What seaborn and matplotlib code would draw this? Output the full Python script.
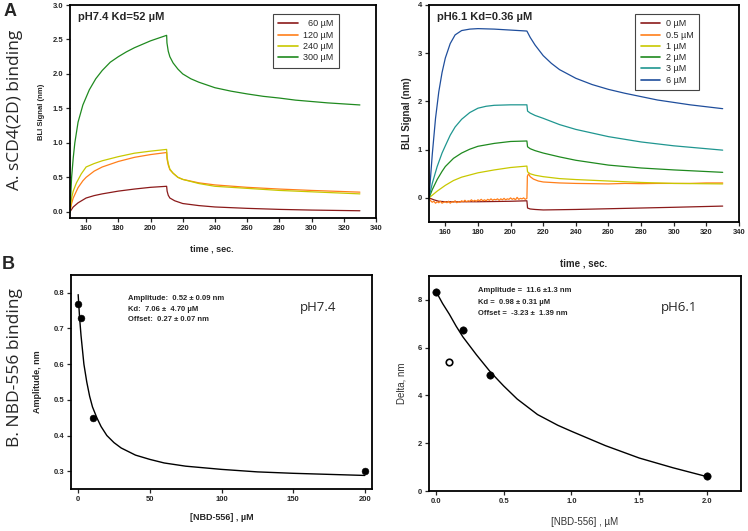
import numpy as np
import pandas as pd
import matplotlib
matplotlib.use("Agg")
import matplotlib.pyplot as plt
import seaborn as sns
from matplotlib.lines import Line2D
from matplotlib.ticker import FormatStrFormatter

# ---------------- Data: panel A left (pH7.4) ----------------
a_left_labels = ["  60 \u00b5M", "120 \u00b5M", "240 \u00b5M", "300 \u00b5M"]
a_left_colors = ["#8b1a1a", "#ff7f1a", "#c8c800", "#1f8a1f"]

t_l60 = [150, 152, 155, 160, 165, 170, 180, 190, 200, 210, 210.3, 211, 212, 215, 220, 230, 240, 260, 280, 300, 330]
y_l60 = [0.0, 0.07, 0.13, 0.20, 0.235, 0.26, 0.30, 0.33, 0.355, 0.37, 0.30, 0.24, 0.20, 0.16, 0.12, 0.09, 0.07, 0.05, 0.035, 0.025, 0.015]

t_l120 = [150, 151, 152, 155, 158, 160, 165, 170, 180, 190, 200, 210, 210.3, 211, 212, 214, 217, 220, 230, 240, 260, 280, 300, 330]
y_l120 = [0.0, 0.12, 0.2, 0.35, 0.45, 0.5, 0.59, 0.65, 0.73, 0.79, 0.83, 0.86, 0.76, 0.68, 0.61, 0.56, 0.50, 0.47, 0.42, 0.39, 0.355, 0.33, 0.31, 0.285]

t_l240 = [150, 151, 152, 154, 157, 160, 165, 170, 180, 190, 200, 210, 210.3, 211, 212, 214, 217, 220, 230, 240, 260, 280, 300, 330]
y_l240 = [0.0, 0.2, 0.3, 0.42, 0.55, 0.65, 0.70, 0.74, 0.80, 0.85, 0.88, 0.905, 0.79, 0.70, 0.62, 0.56, 0.50, 0.47, 0.41, 0.37, 0.34, 0.31, 0.29, 0.26]

t_l300 = [150, 151, 152, 153, 155, 158, 162, 166, 170, 175, 180, 185, 190, 195, 200, 205, 210,
          210.2, 211, 212, 214, 217, 220, 225, 230, 240, 250, 260, 270, 280, 290, 300, 310, 320, 330]
y_l300 = [0.0, 0.5, 0.78, 1.0, 1.3, 1.55, 1.77, 1.93, 2.05, 2.17, 2.25, 2.32, 2.38, 2.43, 2.48, 2.52, 2.56,
          2.45, 2.33, 2.25, 2.16, 2.07, 2.0, 1.93, 1.88, 1.80, 1.75, 1.71, 1.675, 1.65, 1.62, 1.60, 1.58, 1.565, 1.55]

# ---------------- Data: panel A right (pH6.1) ----------------
a_right_labels = ["0 \u00b5M", "0.5 \u00b5M", "1 \u00b5M", "2 \u00b5M", "3 \u00b5M", "6 \u00b5M"]
a_right_colors = ["#8b1a1a", "#ff7f1a", "#c8c800", "#1f8a1f", "#1f9690", "#1f4e9c"]

t_r0 = [150, 153, 156, 160, 170, 180, 190, 200, 210, 210.4, 212, 215, 220, 240, 260, 280, 300, 330]
y_r0 = [0.0, -0.04, -0.07, -0.08, -0.08, -0.08, -0.075, -0.07, -0.06, -0.21, -0.23, -0.24, -0.25, -0.24, -0.225, -0.21, -0.195, -0.17]

t_r05 = list(range(150, 211)) + [210.3, 211, 212, 214, 217, 220, 225, 230, 240, 250, 260, 270, 280, 290, 300, 310, 320, 330]
y_r05 = [0.0, -0.06, -0.09, -0.07, -0.11, -0.08, -0.10, -0.07, -0.11, -0.09,
         -0.08, -0.10, -0.07, -0.11, -0.08, -0.09, -0.06, -0.10, -0.08, -0.09,
         -0.06, -0.08, -0.05, -0.08, -0.06, -0.07, -0.04, -0.07, -0.05, -0.07,
         -0.04, -0.06, -0.03, -0.06, -0.04, -0.06, -0.03, -0.05, -0.02, -0.05,
         -0.03, -0.04, -0.02, -0.05, -0.02, -0.04, -0.01, -0.04, -0.02, -0.03,
         0.0, -0.03, -0.01, -0.04, 0.01, -0.03, -0.01, -0.02, 0.0, -0.03, -0.01,
         0.45, 0.50, 0.44, 0.39, 0.35, 0.33, 0.32, 0.31, 0.30, 0.295, 0.29, 0.30, 0.295, 0.30, 0.30, 0.30, 0.31, 0.31]

t_r1 = [150, 155, 160, 165, 170, 180, 190, 200, 210, 210.4, 212, 215, 220, 230, 240, 260, 280, 300, 330]
y_r1 = [0.0, 0.14, 0.26, 0.36, 0.43, 0.52, 0.58, 0.63, 0.66, 0.54, 0.50, 0.47, 0.44, 0.40, 0.38, 0.35, 0.32, 0.30, 0.29]

t_r2 = [150, 152, 155, 158, 160, 165, 170, 175, 180, 190, 200, 210, 210.4, 212, 215, 220, 230, 240, 260, 280, 300, 330]
y_r2 = [0.0, 0.17, 0.38, 0.55, 0.65, 0.82, 0.93, 1.01, 1.07, 1.13, 1.17, 1.18, 1.06, 1.02, 0.98, 0.93, 0.85, 0.78, 0.68, 0.62, 0.58, 0.53]

t_r3 = [150, 152, 155, 158, 160, 163, 166, 170, 175, 180, 185, 190, 200, 210, 210.4, 212, 215, 220, 230, 240, 260, 280, 300, 330]
y_r3 = [0.0, 0.3, 0.65, 0.93, 1.08, 1.3, 1.47, 1.63, 1.77, 1.86, 1.90, 1.92, 1.93, 1.93, 1.80, 1.76, 1.71, 1.65, 1.52, 1.42, 1.27, 1.16, 1.08, 0.99]

t_r6 = [150, 152, 154, 156, 158, 160, 163, 166, 170, 175, 180, 190, 200, 210, 212, 215, 220, 225, 230, 240, 250, 260, 270, 280, 290, 300, 310, 320, 330]
y_r6 = [0.0, 0.9, 1.65, 2.2, 2.6, 2.9, 3.2, 3.38, 3.47, 3.50, 3.51, 3.50, 3.48, 3.46, 3.33, 3.17, 2.95, 2.79, 2.66, 2.48, 2.35, 2.25, 2.17, 2.10, 2.03, 1.98, 1.93, 1.89, 1.85]

# ---------------- Data: panel B left (pH7.4) ----------------
bl_conc = [0, 2, 10, 200]
bl_amp = [0.77, 0.73, 0.45, 0.30]
bl_fit_x = [0, 1, 2, 3, 4, 6, 8, 10, 13, 16, 20, 25, 30, 40, 50, 60, 75, 100, 125, 150, 175, 200]
bl_fit_y = [0.795, 0.73, 0.68, 0.64, 0.60, 0.55, 0.51, 0.48, 0.45, 0.425, 0.40, 0.38, 0.365, 0.345, 0.333,
            0.323, 0.314, 0.305, 0.298, 0.294, 0.291, 0.288]

# ---------------- Data: panel B right (pH6.1) ----------------
br_conc = [0.0, 0.2, 0.4, 2.0]
br_delta = [8.35, 6.72, 4.85, 0.63]
br_open_conc = [0.1]
br_open_delta = [5.4]
br_fit_x = [0.0, 0.05, 0.1, 0.15, 0.2, 0.3, 0.4, 0.5, 0.6, 0.75, 0.9, 1.0, 1.25, 1.5, 1.75, 2.0]
br_fit_y = [8.37, 7.85, 7.4, 6.9, 6.45, 5.7, 5.0, 4.4, 3.85, 3.2, 2.75, 2.5, 1.9, 1.38, 0.97, 0.6]

bl_params = ["Amplitude:  0.52 \u00b1 0.09 nm", "Kd:  7.06 \u00b1  4.70 \u00b5M", "Offset:  0.27 \u00b1 0.07 nm"]
br_params = ["Amplitude =  11.6 \u00b11.3 nm", "Kd =  0.98 \u00b1 0.31 \u00b5M", "Offset =  -3.23 \u00b1  1.39 nm"]

# ---------------- Figure ----------------
sns.set_style("white")
plt.rcParams["font.family"] = ["Liberation Sans", "DejaVu Sans"]

fig = plt.figure(figsize=(7.48, 5.31), dpi=100)
W, H = 748.0, 531.0


def box(l, r, t, b):
    return [l / W, 1 - b / H, (r - l) / W, (b - t) / H]


axAL = fig.add_axes(box(70, 376, 5, 218))
axAR = fig.add_axes(box(429, 739, 5, 222))
axBL = fig.add_axes(box(71, 372, 275, 489))
axBR = fig.add_axes(box(429, 741, 276, 491))


def style(ax, fs=5.5, bold=True):
    for s in ax.spines.values():
        s.set_visible(True)
        s.set_linewidth(1.3)
        s.set_color("black")
    ax.tick_params(direction="out", length=3, width=0.9, pad=2, labelsize=fs,
                   bottom=True, left=True, top=False, right=False)
    for lab in ax.get_xticklabels() + ax.get_yticklabels():
        lab.set_fontweight("bold" if bold else "normal")


def draw_lines(ax, ts, ys, colors, labels, anchor):
    for t, y, c in zip(ts, ys, colors):
        df = pd.DataFrame({"t": t, "y": y})
        sns.lineplot(data=df, x="t", y="y", ax=ax, color=c, lw=0.9,
                     estimator=None, sort=False, legend=False)
    handles = [Line2D([0], [0], color=c, lw=1.2) for c in colors]
    leg = ax.legend(handles, labels, loc="upper right", bbox_to_anchor=anchor,
                    bbox_transform=ax.transAxes,
                    fontsize=6.5, frameon=True, fancybox=False, framealpha=1,
                    edgecolor="#444444", labelspacing=0.25, handlelength=2.2,
                    borderpad=0.6, handletextpad=0.6, borderaxespad=0.0)
    leg.get_frame().set_linewidth(0.8)
    return leg


def pix_text(x, y, s, **kw):
    kw.setdefault("va", "center")
    fig.text(x / W, 1 - y / H, s, **kw)


# Panel A left
draw_lines(axAL, [t_l60, t_l120, t_l240, t_l300], [y_l60, y_l120, y_l240, y_l300],
           a_left_colors, a_left_labels, (0, 0, (339 - 70) / 306.0, (218 - 14) / 213.0))
axAL.set_xlim(150, 340)
axAL.set_ylim(-0.09, 3.0)
axAL.set_xticks(range(160, 341, 20))
axAL.set_yticks(np.arange(0, 3.01, 0.5))
axAL.yaxis.set_major_formatter(FormatStrFormatter("%.1f"))
axAL.set_xlabel("")
axAL.set_ylabel("BLI Signal (nm)", fontsize=5.5, fontweight="bold", labelpad=5)
axAL.text(0.025, 0.945, "pH7.4 Kd=52 \u00b5M", transform=axAL.transAxes, fontsize=8,
          fontweight="bold", va="center", ha="left")
style(axAL)

# Panel A right
draw_lines(axAR, [t_r0, t_r05, t_r1, t_r2, t_r3, t_r6],
           [y_r0, y_r05, y_r1, y_r2, y_r3, y_r6], a_right_colors, a_right_labels,
           (0, 0, (699 - 429) / 310.0, (222 - 14) / 217.0))
axAR.set_xlim(150, 340)
axAR.set_ylim(-0.5, 4.0)
axAR.set_xticks(range(160, 341, 20))
axAR.set_yticks(range(0, 5))
axAR.set_xlabel("")
axAR.set_ylabel("BLI Signal (nm)", fontsize=7, fontweight="bold", labelpad=4)
axAR.text(0.025, 0.945, "pH6.1 Kd=0.36 \u00b5M", transform=axAR.transAxes, fontsize=8,
          fontweight="bold", va="center", ha="left")
style(axAR)

pix_text(212, 249, "time , sec.", fontsize=6.5, fontweight="bold", ha="center")
pix_text(584, 263, "time , sec.", fontsize=7, fontweight="bold", ha="center")

# Panel B left
sns.lineplot(x=bl_fit_x, y=bl_fit_y, ax=axBL, color="black", lw=1.0, estimator=None, sort=False)
sns.scatterplot(x=bl_conc, y=bl_amp, ax=axBL, color="black", s=24, edgecolor="black", zorder=3)
axBL.set_xlim(-5, 205)
axBL.set_ylim(0.25, 0.85)
axBL.set_xticks(range(0, 201, 50))
axBL.set_yticks(np.arange(0.3, 0.81, 0.1))
axBL.yaxis.set_major_formatter(FormatStrFormatter("%.1f"))
axBL.set_xlabel("[NBD-556] , \u00b5M", fontsize=6.5, fontweight="bold", labelpad=7)
axBL.set_ylabel("Amplitude, nm", fontsize=6.5, fontweight="bold", labelpad=8)
style(axBL)

# Panel B right
sns.lineplot(x=br_fit_x, y=br_fit_y, ax=axBR, color="black", lw=1.0, estimator=None, sort=False)
sns.scatterplot(x=br_conc, y=br_delta, ax=axBR, color="black", s=28, edgecolor="black", zorder=3)
sns.scatterplot(x=br_open_conc, y=br_open_delta, ax=axBR, facecolor="white", s=22,
                edgecolor="black", linewidth=1.2, zorder=3)
axBR.set_xlim(-0.05, 2.25)
axBR.set_ylim(0, 9)
axBR.set_xticks(np.arange(0, 2.01, 0.5))
axBR.set_yticks(range(0, 9, 2))
axBR.xaxis.set_major_formatter(FormatStrFormatter("%.1f"))
axBR.set_xlabel("[NBD-556] , \u00b5M", fontsize=7, color="#333333", labelpad=9)
axBR.set_ylabel("Delta, nm", fontsize=7, color="#333333", labelpad=8)
style(axBR)

# Fit-parameter text
for i, s in enumerate(bl_params):
    pix_text(128, 299 + 10.3 * i, s, fontsize=5.5, fontweight="bold")
for i, s in enumerate(br_params):
    pix_text(477.5, 290.5 + 11.7 * i, s, fontsize=5.5, fontweight="bold")

pix_text(300, 307, "pH7.4", fontsize=9.5, family=["Open Sans", "DejaVu Sans"])
pix_text(661, 307, "pH6.1", fontsize=9.5, family=["Open Sans", "DejaVu Sans"])

# Row labels
pix_text(10, 11, "A", fontsize=13, fontweight="bold", ha="center")
pix_text(8, 264, "B", fontsize=13, fontweight="bold", ha="center")
pix_text(15, 110, "A. sCD4(2D) binding", fontsize=12.5, rotation=90, ha="center",
         family=["Open Sans", "DejaVu Sans"])
pix_text(15, 368, "B. NBD-556 binding", fontsize=12.5, rotation=90, ha="center",
         family=["Open Sans", "DejaVu Sans"])

fig.savefig("out.png", dpi=100)
